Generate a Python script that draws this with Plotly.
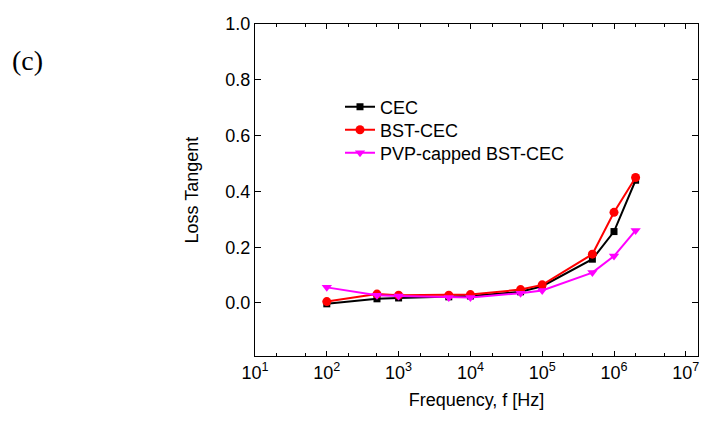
import plotly.graph_objects as go

freq = [1e2, 5e2, 1e3, 5e3, 1e4, 5e4, 1e5, 5e5, 1e6, 2e6]
cec = [-0.003, 0.015, 0.018, 0.022, 0.025, 0.040, 0.060, 0.157, 0.256, 0.440]
bst_cec = [0.005, 0.032, 0.028, 0.028, 0.030, 0.048, 0.065, 0.175, 0.325, 0.450]
pvp_bst_cec = [0.056, 0.028, 0.025, 0.020, 0.020, 0.035, 0.045, 0.109, 0.168, 0.260]

xtickvals = [1e1, 1e2, 1e3, 1e4, 1e5, 1e6, 1e7]
xticktext = ["10<sup>1</sup>", "10<sup>2</sup>", "10<sup>3</sup>", "10<sup>4</sup>",
             "10<sup>5</sup>", "10<sup>6</sup>", "10<sup>7</sup>"]
ytickvals = [0.0, 0.2, 0.4, 0.6, 0.8, 1.0]
yticktext = ["0.0", "0.2", "0.4", "0.6", "0.8", "1.0"]

# plot area in pixels: left 255, right 698, top 24, bottom 356
L, R, T, B = 255, 698, 24, 356
W, H = R - L, B - T

def px(x):
    return (x - L) / W

def py(y):
    return (B - y) / H

fig = go.Figure()
fig.add_trace(go.Scatter(x=freq, y=cec, name="CEC", mode="lines+markers", legend="legend",
                         line=dict(color="black", width=2),
                         marker=dict(symbol="square", size=7, color="black")))
fig.add_trace(go.Scatter(x=freq, y=bst_cec, name="BST-CEC", mode="lines+markers", legend="legend2",
                         line=dict(color="red", width=2),
                         marker=dict(symbol="circle", size=9, color="red")))
fig.add_trace(go.Scatter(x=freq, y=pvp_bst_cec, name="PVP-capped BST-CEC", mode="lines+markers",
                         legend="legend3",
                         line=dict(color="magenta", width=2),
                         marker=dict(symbol="triangle-down", size=9, color="magenta")))

leg_common = dict(xanchor="left", yanchor="middle", bgcolor="rgba(0,0,0,0)",
                  font=dict(size=18), itemwidth=30)
fig.update_layout(
    width=703, height=423,
    margin=dict(l=L, r=703 - R, t=T, b=423 - B, autoexpand=False),
    paper_bgcolor="white", plot_bgcolor="white",
    font=dict(family="Liberation Sans, Arial, sans-serif", size=18, color="black"),
    showlegend=True,
    legend=dict(x=px(340), y=py(107), **leg_common),
    legend2=dict(x=px(340), y=py(130), **leg_common),
    legend3=dict(x=px(340), y=py(153), **leg_common),
)
fig.update_xaxes(type="log", range=[1, 7.17], tickvals=xtickvals, ticktext=xticktext,
                 automargin=False, tickfont=dict(size=18),
                 showline=True, linecolor="black", linewidth=1, mirror="ticks",
                 ticks="inside", ticklen=5, tickcolor="black", showgrid=False, zeroline=False,
                 minor=dict(ticks="inside", ticklen=3, tickcolor="black", showgrid=False),
                 title=dict(text="Frequency, f [Hz]", font=dict(size=18), standoff=11))
fig.update_yaxes(range=[-0.19, 1.0], tickvals=ytickvals, ticktext=yticktext,
                 automargin=False, tickfont=dict(size=18),
                 showline=True, linecolor="black", linewidth=1, mirror="ticks",
                 ticks="inside", ticklen=6, tickcolor="black", showgrid=False, zeroline=False,
                 title=dict(text="Loss Tangent", font=dict(size=18), standoff=22))
fig.add_annotation(text="(c)", xref="paper", yref="paper",
                   x=px(28), y=py(60), xanchor="center", yanchor="middle",
                   showarrow=False,
                   font=dict(family="Liberation Serif, Times New Roman, serif", size=28))
fig.write_html("out.html", config={"displayModeBar": False},
               post_script="document.body.style.margin='0';")
